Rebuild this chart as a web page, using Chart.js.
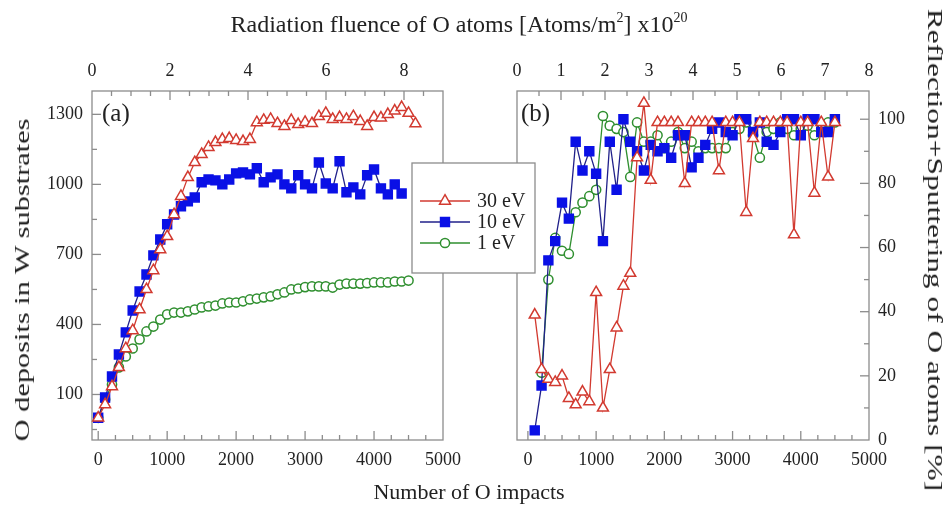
<!DOCTYPE html>
<html>
<head>
<meta charset="utf-8">
<script src="https://cdn.jsdelivr.net/npm/chart.js@4.4.1/dist/chart.umd.min.js"></script>
<style>
  body { margin:0; background:#fff; width:950px; height:508px; position:relative; overflow:hidden;
         font-family:"Liberation Serif", "Times New Roman", serif; color:#222; }
  #wrapA { position:absolute; left:0; top:0; width:545px; height:508px; z-index:2; }
  #wrapB { position:absolute; left:470px; top:0; width:480px; height:508px; z-index:1; }
  .txt { position:absolute; white-space:nowrap; z-index:3; }
  .vt { position:absolute; white-space:nowrap; z-index:3; font-size:22px; line-height:24px; }
  sup { font-size:14px; vertical-align:10px; line-height:0; }
</style>
</head>
<body>
<div id="wrapB"><canvas id="chartB"></canvas></div>
<div id="wrapA"><canvas id="chartA"></canvas></div>
<div class="txt" style="left:0;width:918px;top:11px;text-align:center;font-size:24px;">Radiation fluence of O atoms [Atoms/m<sup>2</sup>] x10<sup>20</sup></div>
<div class="txt" style="left:0;width:938px;top:479px;text-align:center;font-size:22px;">Number of O impacts</div>
<div class="vt" style="left:22px;top:280px;transform:translate(-50%,-50%) rotate(-90deg) scaleX(1.38);">O deposits in W substrates</div>
<div class="vt" style="left:935px;top:250px;transform:translate(-50%,-50%) rotate(90deg) scaleX(1.43);">Reflection+Sputtering of O atoms [%]</div>
<div class="txt" style="left:102px;top:99px;font-size:25px;">(a)</div>
<div class="txt" style="left:521px;top:99px;font-size:25px;">(b)</div>

<script>
// number of O impacts (x values, shared by all series)
const impacts = [0,100,200,300,400,500,600,700,800,900,1000,1100,1200,1300,1400,1500,1600,1700,1800,1900,
  2000,2100,2200,2300,2400,2500,2600,2700,2800,2900,3000,3100,3200,3300,3400,3500,3600,3700,3800,3900,
  4000,4100,4200,4300,4400,4500,4600];

// (a) O deposits in W substrates
const depo30 = [0,57,134,216,297,374,464,550,631,721,777,871,949,1030,1094,1129,1159,1180,1193,1197,
  1189,1184,1193,1265,1275,1279,1261,1249,1274,1257,1266,1261,1291,1305,1279,1287,1279,1291,1270,1249,
  1287,1285,1300,1315,1330,1305,1260];
const depo10 = [0,87,177,271,366,460,541,614,696,764,829,871,906,927,944,1009,1021,1017,1000,1021,
  1047,1051,1043,1069,1009,1030,1043,1000,983,1039,1000,983,1094,1004,983,1099,966,987,957,1039,
  1064,983,957,1000,961];
const depo1 = [0,79,143,216,263,297,336,370,391,421,443,451,451,456,464,473,477,481,490,494,
  494,499,507,511,516,520,529,537,550,554,560,563,563,563,558,571,575,575,575,577,
  580,580,580,584,584,588];

// (b) reflection + sputtering of O atoms [%]  (30 eV, 10 eV start at 100 impacts, 1 eV at 200)
const refl30 = [39,22,19,18,20,13,11,15,12,46,10,22,35,48,52,88,105,81,99,99,
  99,99,80,99,99,99,99,84,99,99,99,71,94,99,99,99,99,99,64,99,
  99,77,99,82,99];
const refl10 = [3,17,56,62,74,69,93,84,90,83,62,93,78,100,93,90,84,92,90,91,
  88,95,95,85,88,92,97,99,96,95,100,100,96,99,93,92,96,100,100,95,
  100,100,96,96,100];
const refl1 = [21,50,63,59,58,71,74,76,78,101,98,97,96,82,99,93,93,95,91,93,
  96,91,93,90,91,91,91,91,96,97,99,95,88,96,97,99,97,95,97,98,
  95,97,99,99];

// labelled ticks
const impactTicks = [0,1000,2000,3000,4000,5000];
const depoTicks = [100,400,700,1000,1300];
const reflTicks = [0,20,40,60,80,100];
const fluenceTicksA = [0,2,4,6,8];
const fluenceTicksB = [0,1,2,3,4,5,6,7,8];

const labels = ['30 eV','10 eV','1 eV'];

document.addEventListener('DOMContentLoaded', function() {

  const tickFont = { family: 'Liberation Serif', size: 18 };

  function pts(xs, ys) { return ys.map((v, i) => ({ x: xs[i], y: v })); }

  // minor tick marks between labelled ones
  function range(a, b, step) { const r = []; for (let v = a; v <= b + 1e-9; v += step) r.push(+v.toFixed(4)); return r; }
  function tickSet(major, minor) {
    const t = minor.filter(v => !major.includes(v)).map(v => ({ value: v, major: false }));
    return major.map(v => ({ value: v, major: true })).concat(t).sort((p, q) => p.value - q.value);
  }
  function axis(pos, min, max, major, minor, extra) {
    return Object.assign({
      type: 'linear', position: pos, min: min, max: max,
      afterBuildTicks: s => { s.ticks = tickSet(major, minor); },
      grid: { display: false, drawTicks: false },
      border: { display: false },
      ticks: {
        autoSkip: false, maxRotation: 0, color: '#222', font: tickFont, padding: 9,
        callback: (v, i, t) => t[i].major ? String(v) : ''
      }
    }, extra || {});
  }

  // 30 eV red triangles, 10 eV blue squares, 1 eV green circles
  function styles(i) {
    return [
      { borderColor: '#d23a30', pointBorderColor: '#d23a30', pointBackgroundColor: '#ffffff', pointStyle: 'triangle', pointRadius: 6.3 },
      { borderColor: '#20208a', pointBorderColor: '#0a10e6', pointBackgroundColor: '#0a10e6', pointStyle: 'rect', pointRadius: 6.3 },
      { borderColor: '#2f8f2f', pointBorderColor: '#2f8f2f', pointBackgroundColor: '#ffffff', pointStyle: 'circle', pointRadius: 4.6 }
    ][i];
  }
  function dataset(i, data) {
    return Object.assign({
      label: labels[i], data: data, borderWidth: 1.3, pointBorderWidth: 1.5,
      tension: 0, clip: false
    }, styles(i));
  }

  // frame around the plot + inward tick marks
  const frameTicks = {
    id: 'frameTicks',
    beforeDatasetsDraw(chart) {
      const { ctx, chartArea: a } = chart;
      ctx.save();
      ctx.strokeStyle = '#8c8c8c';
      ctx.lineWidth = 1.3;
      ctx.strokeRect(a.left, a.top, a.right - a.left, a.bottom - a.top);
      Object.values(chart.scales).forEach(s => {
        s.ticks.forEach(t => {
          const p = s.getPixelForValue(t.value);
          const len = t.major ? 9 : 5;
          ctx.beginPath();
          if (s.position === 'bottom') {
            if (p < a.left + 1 || p > a.right - 1) return;
            ctx.moveTo(p, a.bottom); ctx.lineTo(p, a.bottom - len);
          } else if (s.position === 'top') {
            if (p < a.left + 1 || p > a.right - 1) return;
            ctx.moveTo(p, a.top); ctx.lineTo(p, a.top + len);
          } else if (s.position === 'left') {
            if (p < a.top + 1 || p > a.bottom - 1) return;
            ctx.moveTo(a.left, p); ctx.lineTo(a.left + len, p);
          } else {
            if (p < a.top + 1 || p > a.bottom - 1) return;
            ctx.moveTo(a.right, p); ctx.lineTo(a.right - len, p);
          }
          ctx.stroke();
        });
      });
      ctx.restore();
    }
  };

  // boxed legend sitting between the two panels (drawn over panel b's frame)
  const boxLegend = {
    id: 'boxLegend',
    afterDraw(chart) {
      const ctx = chart.ctx;
      const x0 = 412, y0 = 163, w = 123, h = 110;
      ctx.save();
      ctx.fillStyle = '#ffffff';
      ctx.fillRect(x0, y0, w, h);
      ctx.strokeStyle = '#8c8c8c';
      ctx.lineWidth = 1.3;
      ctx.strokeRect(x0, y0, w, h);
      chart.data.datasets.forEach((d, i) => {
        const y = y0 + 38 + i * 21;
        ctx.strokeStyle = d.borderColor;
        ctx.lineWidth = 1.5;
        ctx.beginPath(); ctx.moveTo(x0 + 8, y); ctx.lineTo(x0 + 58, y); ctx.stroke();
        ctx.fillStyle = d.pointBackgroundColor;
        ctx.strokeStyle = d.pointBorderColor;
        Chart.helpers.drawPoint(ctx, { pointStyle: d.pointStyle, radius: d.pointRadius, rotation: 0, borderWidth: 1.5 }, x0 + 33, y);
        ctx.fillStyle = '#222';
        ctx.font = '20px "Liberation Serif"';
        ctx.textBaseline = 'middle';
        ctx.fillText(d.label, x0 + 65, y + 1);
      });
      ctx.restore();
    }
  };

  // panel (a): O deposits
  const ctxA = document.getElementById('chartA');
  const chartA = new Chart(ctxA, {
    type: 'line',
    data: {
      datasets: [
        dataset(0, pts(impacts, depo30)),
        dataset(1, pts(impacts, depo10)),
        dataset(2, pts(impacts, depo1))
      ]
    },
    options: {
      responsive: true, maintainAspectRatio: false, animation: false,
      layout: { padding: { left: 0, right: 102, top: 0, bottom: 0 } },
      plugins: { legend: { display: false }, tooltip: { enabled: false } },
      scales: {
        x: axis('bottom', -90, 5000, impactTicks, range(0, 5000, 250), { afterFit: s => { s.height = 68; } }),
        x2: axis('top', 0, 9, fluenceTicksA, range(0, 9, 0.5), { afterFit: s => { s.height = 91; } }),
        y: axis('left', -95, 1400, depoTicks, range(-50, 1400, 150), { afterFit: s => { s.width = 92; } })
      }
    },
    plugins: [frameTicks, boxLegend]
  });

  // panel (b): reflection + sputtering
  const ctxB = document.getElementById('chartB');
  const chartB = new Chart(ctxB, {
    type: 'line',
    data: {
      datasets: [
        dataset(0, pts(impacts.slice(1), refl30)),
        dataset(1, pts(impacts.slice(1), refl10)),
        dataset(2, pts(impacts.slice(2), refl1))
      ]
    },
    options: {
      responsive: true, maintainAspectRatio: false, animation: false,
      layout: { padding: { left: 47, right: 0, top: 0, bottom: 0 } },
      plugins: { legend: { display: false }, tooltip: { enabled: false } },
      scales: {
        x: axis('bottom', -160, 5000, impactTicks, range(0, 5000, 250), { afterFit: s => { s.height = 68; } }),
        x2: axis('top', 0, 8, fluenceTicksB, range(0, 8, 0.5), { afterFit: s => { s.height = 91; } }),
        y: axis('right', 0, 108.8, reflTicks, range(0, 100, 10), { afterFit: s => { s.width = 81; } })
      }
    },
    plugins: [frameTicks]
  });
});
</script>
</body>
</html>
